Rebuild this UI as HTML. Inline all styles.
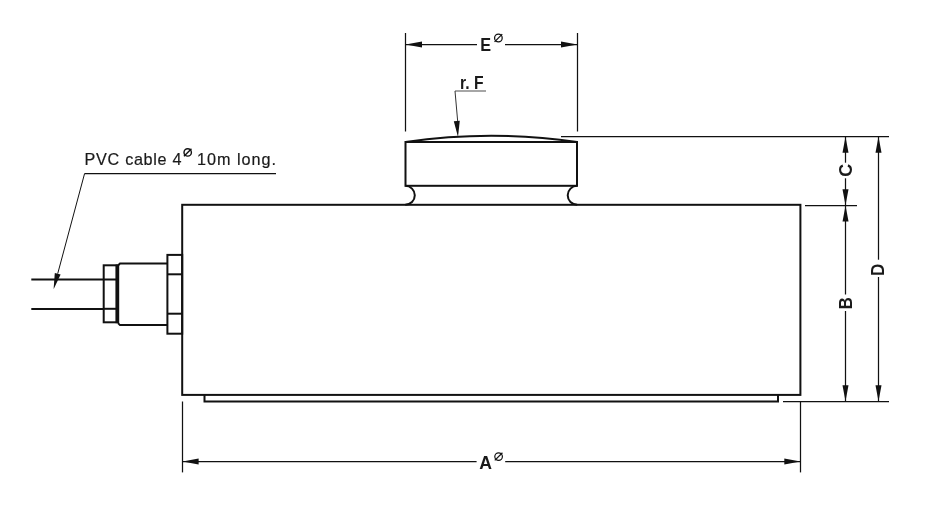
<!DOCTYPE html>
<html><head><meta charset="utf-8"><style>
html,body{margin:0;padding:0;background:#fff;}
svg{display:block;filter:grayscale(1);font-family:"Liberation Sans",sans-serif;}
</style></head><body>
<svg width="940" height="518" viewBox="0 0 940 518">
<rect width="940" height="518" fill="#fff"/>
<line x1="405.5" y1="33" x2="405.5" y2="131.5" stroke="#111" stroke-width="1.25"/>
<line x1="577.5" y1="33" x2="577.5" y2="131.5" stroke="#111" stroke-width="1.25"/>
<line x1="405.5" y1="44.5" x2="477" y2="44.5" stroke="#111" stroke-width="1.25"/>
<line x1="505" y1="44.5" x2="577.5" y2="44.5" stroke="#111" stroke-width="1.25"/>
<polygon points="405.50,44.50 422.00,41.50 422.00,47.50" fill="#111"/>
<polygon points="577.50,44.50 561.00,47.50 561.00,41.50" fill="#111"/>
<text x="0" y="0" font-size="18" font-weight="bold" fill="#1a1a1a" opacity="0.995" transform="translate(480.2,50.8) scale(0.9,1)">E</text>
<circle cx="498.4" cy="38" r="3.8" fill="none" stroke="#111" stroke-width="1.25"/>
<line x1="494.56999999999994" y1="41.83" x2="502.23" y2="34.17" stroke="#111" stroke-width="1.25"/>
<text x="0" y="0" font-size="18" font-weight="bold" fill="#1a1a1a" opacity="0.995" transform="translate(460,88.5) scale(0.87,1)">r. F</text>
<line x1="455" y1="91" x2="486" y2="91" stroke="#888" stroke-width="1.5"/>
<line x1="455" y1="91" x2="458" y2="125" stroke="#333" stroke-width="1.0"/>
<polygon points="458.00,137.00 453.81,121.22 459.79,120.78" fill="#111"/>
<path d="M405.5,142 A600,600 0 0 1 577,142" fill="none" stroke="#111" stroke-width="2.0"/>
<rect x="405.5" y="142" width="171.5" height="43.8" fill="none" stroke="#111" stroke-width="2.0"/>
<path d="M405.3,185.8 A9.5,9.5 0 0 1 405.3,204.8" fill="none" stroke="#111" stroke-width="2.0"/>
<path d="M577.2,185.8 A9.5,9.5 0 0 0 577.2,204.8" fill="none" stroke="#111" stroke-width="2.0"/>
<rect x="182.2" y="204.8" width="618.2" height="190.1" fill="none" stroke="#111" stroke-width="2.0"/>
<path d="M204.5,394.9 V401.5 H778 V394.9" fill="none" stroke="#111" stroke-width="2.0"/>
<line x1="561" y1="136.5" x2="889" y2="136.5" stroke="#111" stroke-width="1.25"/>
<line x1="805" y1="205.5" x2="857" y2="205.5" stroke="#111" stroke-width="1.25"/>
<line x1="783" y1="401.5" x2="889" y2="401.5" stroke="#111" stroke-width="1.25"/>
<line x1="845.5" y1="136.5" x2="845.5" y2="162.7" stroke="#111" stroke-width="1.25"/>
<line x1="845.5" y1="178.3" x2="845.5" y2="205.5" stroke="#111" stroke-width="1.25"/>
<polygon points="845.50,136.50 848.50,152.80 842.50,152.80" fill="#111"/>
<polygon points="845.50,205.50 842.50,189.20 848.50,189.20" fill="#111"/>
<line x1="845.5" y1="205.5" x2="845.5" y2="294.5" stroke="#111" stroke-width="1.25"/>
<line x1="845.5" y1="311" x2="845.5" y2="401.5" stroke="#111" stroke-width="1.25"/>
<polygon points="845.50,205.50 848.50,221.50 842.50,221.50" fill="#111"/>
<polygon points="845.50,401.50 842.50,385.20 848.50,385.20" fill="#111"/>
<line x1="878.5" y1="136.5" x2="878.5" y2="259.7" stroke="#111" stroke-width="1.25"/>
<line x1="878.5" y1="277" x2="878.5" y2="401.5" stroke="#111" stroke-width="1.25"/>
<polygon points="878.50,136.50 881.50,152.80 875.50,152.80" fill="#111"/>
<polygon points="878.50,401.50 875.50,385.20 881.50,385.20" fill="#111"/>
<text x="0" y="0" font-size="19" font-weight="bold" fill="#1a1a1a" opacity="0.995" transform="translate(852,176.7) rotate(-90) scale(0.95,1)">C</text>
<text x="0" y="0" font-size="18" font-weight="bold" fill="#1a1a1a" opacity="0.995" transform="translate(852,309.3) rotate(-90) scale(0.93,1)">B</text>
<text x="0" y="0" font-size="18" font-weight="bold" fill="#1a1a1a" opacity="0.995" transform="translate(884,275.9) rotate(-90) scale(0.95,1)">D</text>
<line x1="182.5" y1="401.5" x2="182.5" y2="472.4" stroke="#111" stroke-width="1.25"/>
<line x1="800.5" y1="401.5" x2="800.5" y2="472.4" stroke="#111" stroke-width="1.25"/>
<line x1="182.5" y1="461.5" x2="476.6" y2="461.5" stroke="#111" stroke-width="1.25"/>
<line x1="505.2" y1="461.5" x2="800.5" y2="461.5" stroke="#111" stroke-width="1.25"/>
<polygon points="182.50,461.50 198.60,458.50 198.60,464.50" fill="#111"/>
<polygon points="800.50,461.50 784.30,464.50 784.30,458.50" fill="#111"/>
<text x="0" y="0" font-size="18" font-weight="bold" fill="#1a1a1a" opacity="0.995" transform="translate(479.3,468.6) scale(0.98,1)">A</text>
<circle cx="498.6" cy="456.6" r="3.8" fill="none" stroke="#111" stroke-width="1.2"/>
<line x1="494.77" y1="460.43000000000006" x2="502.43000000000006" y2="452.77" stroke="#111" stroke-width="1.2"/>
<line x1="31.3" y1="279.5" x2="104" y2="279.5" stroke="#111" stroke-width="1.8"/>
<line x1="31.3" y1="309" x2="104" y2="309" stroke="#111" stroke-width="1.8"/>
<rect x="103.7" y="265.3" width="13" height="57" fill="none" stroke="#111" stroke-width="2.0"/>
<line x1="103.7" y1="279.5" x2="117" y2="279.5" stroke="#111" stroke-width="2.0"/>
<line x1="103.7" y1="308.8" x2="117" y2="308.8" stroke="#111" stroke-width="2.0"/>
<line x1="117.4" y1="264.5" x2="117.4" y2="323.2" stroke="#111" stroke-width="3.6"/>
<path d="M118,265.5 L120,263.5 H167.4 M118,323.1 L120,325.1 H167.4" fill="none" stroke="#111" stroke-width="2.0"/>
<rect x="167.4" y="254.9" width="14.8" height="78.8" fill="none" stroke="#111" stroke-width="2.0"/>
<line x1="167.4" y1="274.3" x2="182" y2="274.3" stroke="#111" stroke-width="2.0"/>
<line x1="167.4" y1="313.7" x2="182" y2="313.7" stroke="#111" stroke-width="2.0"/>
<line x1="84.6" y1="173.5" x2="276" y2="173.5" stroke="#111" stroke-width="1.25"/>
<line x1="84.6" y1="173.5" x2="57.7" y2="273.7" stroke="#111" stroke-width="1.0"/>
<polygon points="53.60,289.20 54.80,272.93 60.60,274.47" fill="#111"/>
<text x="84.6" y="165" font-size="16.2" font-weight="normal" fill="#1a1a1a" opacity="0.995" textLength="82" lengthAdjust="spacing" stroke="#1a1a1a" stroke-width="0.2">PVC cable</text>
<text x="172.4" y="165" font-size="16.2" font-weight="normal" fill="#1a1a1a" opacity="0.995" stroke="#1a1a1a" stroke-width="0.2">4</text>
<circle cx="187.7" cy="152.4" r="3.7" fill="none" stroke="#111" stroke-width="1.4"/>
<line x1="183.95499999999998" y1="156.145" x2="191.445" y2="148.655" stroke="#111" stroke-width="1.4"/>
<text x="197" y="165" font-size="16.2" font-weight="normal" fill="#1a1a1a" opacity="0.995" textLength="79" lengthAdjust="spacing" stroke="#1a1a1a" stroke-width="0.2">10m long.</text>
</svg></body></html>
